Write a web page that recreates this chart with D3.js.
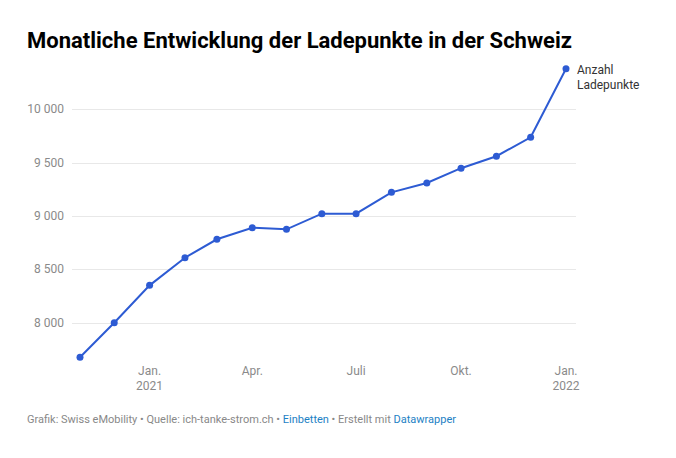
<!DOCTYPE html>
<html lang="de">
<head>
    <meta charset="UTF-8">
    <title>Monatliche Entwicklung der Ladepunkte in der Schweiz</title>
    <script src="https://d3js.org/d3.v7.min.js"></script>
    <style>
        body {
            margin: 0;
            padding: 0;
            background-color: #ffffff;
            font-family: Roboto, "Noto Sans", sans-serif;
        }
        .title {
            font-weight: bold;
            font-size: 22px;
            fill: #000;
        }
        .tick-label {
            font-size: 12px;
            fill: #8a8a8a;
        }
        .footer {
            font-size: 11px;
            fill: #888;
        }
        .footer .link {
            fill: #1d81c4;
        }
    </style>
</head>
<body>
    <div id="chart"></div>
    <script>
        // Monatsdaten (Monatsanfang)
        const months = ["2020-11-01", "2020-12-01", "2021-01-01", "2021-02-01", "2021-03-01",
                        "2021-04-01", "2021-05-01", "2021-06-01", "2021-07-01", "2021-08-01",
                        "2021-09-01", "2021-10-01", "2021-11-01", "2021-12-01", "2022-01-01"];
        const ladepunkte = [7676, 8000, 8350, 8609, 8782, 8890, 8875, 9022, 9022, 9222,
                            9309, 9448, 9560, 9738, 10380];
        const yTicks = [8000, 8500, 9000, 9500, 10000];
        const xTicks = ["2021-01-01", "2021-04-01", "2021-07-01", "2021-10-01", "2022-01-01"];
        const xTickLabels = [["Jan.", "2021"], ["Apr."], ["Juli"], ["Okt."], ["Jan.", "2022"]];

        const width = 676, height = 458;
        const parse = d3.timeParse("%Y-%m-%d");
        const data = months.map((m, i) => ({date: parse(m), value: ladepunkte[i]}));

        const svg = d3.select("#chart")
            .append("svg")
            .attr("width", width)
            .attr("height", height);

        const x = d3.scaleTime()
            .domain([parse(months[0]), parse(months[months.length - 1])])
            .range([80, 566]);
        const y = d3.scaleLinear()
            .domain([8000, 10000])
            .range([322.7, 109.3]);

        const fmt = d3.formatLocale({decimal: ",", thousands: " ", grouping: [3], currency: ["", " CHF"]}).format(",d");

        // Titel
        svg.append("text")
            .attr("class", "title")
            .attr("x", 27)
            .attr("y", 48)
            .text("Monatliche Entwicklung der Ladepunkte in der Schweiz");

        // Gitterlinien + y-Beschriftung
        const yg = svg.append("g");
        yg.selectAll("line")
            .data(yTicks)
            .enter()
            .append("line")
            .attr("x1", 72)
            .attr("x2", 576)
            .attr("y1", d => Math.round(y(d)) + 0.5)
            .attr("y2", d => Math.round(y(d)) + 0.5)
            .attr("stroke", "#e8e8e8")
            .attr("stroke-width", 1);
        yg.selectAll("text")
            .data(yTicks)
            .enter()
            .append("text")
            .attr("class", "tick-label")
            .attr("x", 64)
            .attr("y", d => y(d) + 4)
            .attr("text-anchor", "end")
            .text(d => fmt(d));

        // x-Beschriftung
        const xg = svg.append("g");
        xTicks.forEach((t, i) => {
            const txt = xg.append("text")
                .attr("class", "tick-label")
                .attr("x", x(parse(t)))
                .attr("y", 375)
                .attr("text-anchor", "middle");
            xTickLabels[i].forEach((l, j) => {
                txt.append("tspan")
                    .attr("x", x(parse(t)))
                    .attr("dy", j === 0 ? 0 : 15)
                    .text(l);
            });
        });

        // Linie
        const line = d3.line()
            .x(d => x(d.date))
            .y(d => y(d.value));
        svg.append("path")
            .datum(data)
            .attr("fill", "none")
            .attr("stroke", "#2d5bd3")
            .attr("stroke-width", 2)
            .attr("d", line);
        svg.selectAll(".dot")
            .data(data)
            .enter()
            .append("circle")
            .attr("class", "dot")
            .attr("cx", d => x(d.date))
            .attr("cy", d => y(d.value))
            .attr("r", 3.5)
            .attr("fill", "#2d5bd3");

        // Linienbeschriftung
        const last = data[data.length - 1];
        const lbl = svg.append("text")
            .attr("x", x(last.date) + 11)
            .attr("y", y(last.value) + 5)
            .style("font-size", "12px")
            .attr("fill", "#333");
        lbl.append("tspan").attr("x", x(last.date) + 11).text("Anzahl");
        lbl.append("tspan").attr("x", x(last.date) + 11).attr("dy", 15).text("Ladepunkte");

        // Fusszeile
        const ft = svg.append("text")
            .attr("class", "footer")
            .attr("x", 27)
            .attr("y", 423);
        ft.append("tspan").text("Grafik: Swiss eMobility • Quelle: ich-tanke-strom.ch • ");
        ft.append("tspan").attr("class", "link").text("Einbetten");
        ft.append("tspan").text(" • Erstellt mit ");
        ft.append("tspan").attr("class", "link").text("Datawrapper");
    </script>
</body>
</html>
